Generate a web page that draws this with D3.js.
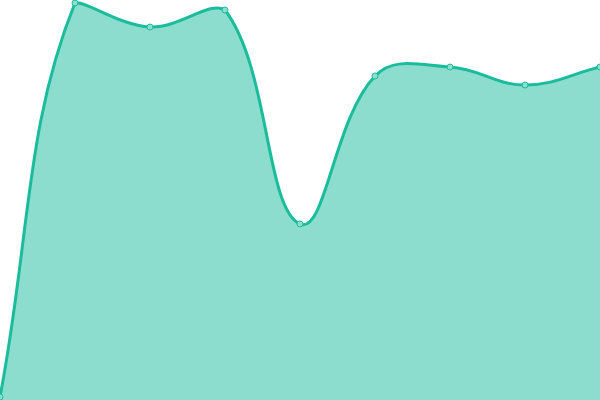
<!DOCTYPE html>
<html>
<head>
<meta charset="utf-8">
<script src="https://cdn.jsdelivr.net/npm/d3@7"></script>
<style>
  body { margin: 0; background: #fff; }
</style>
</head>
<body>
<div id="chart"></div>
<script>
// Data
const labels = [0, 1, 2, 3, 4, 5, 6, 7, 8];
const values = [3, 397, 373, 390, 176, 324, 333, 315, 333];

const width = 600;
const height = 400;
const tension = 0.4;

const svg = d3.select("#chart")
    .append("svg")
    .attr("width", width)
    .attr("height", height);

// Scales
const xScale = d3.scaleLinear()
    .domain([0, labels.length - 1])
    .range([0, width]);

const yScale = d3.scaleLinear()
    .domain([0, 400])
    .range([height, 0]);

const pts = labels.map((l, i) => ({ x: xScale(l), y: yScale(values[i]) }));

// Spline control points, clamped to the plot area
const clampX = v => Math.max(0, Math.min(width, v));
const clampY = v => Math.max(0, Math.min(height, v));
pts.forEach((p, i) => {
    const prev = pts[i - 1] || p;
    const next = pts[i + 1] || p;
    const d01 = Math.hypot(p.x - prev.x, p.y - prev.y);
    const d12 = Math.hypot(next.x - p.x, next.y - p.y);
    let s01 = d01 / (d01 + d12);
    let s12 = d12 / (d01 + d12);
    s01 = isNaN(s01) ? 0 : s01;
    s12 = isNaN(s12) ? 0 : s12;
    const fa = tension * s01;
    const fb = tension * s12;
    p.cpPrev = { x: clampX(p.x - fa * (next.x - prev.x)), y: clampY(p.y - fa * (next.y - prev.y)) };
    p.cpNext = { x: clampX(p.x + fb * (next.x - prev.x)), y: clampY(p.y + fb * (next.y - prev.y)) };
});

function splinePath(path) {
    path.moveTo(pts[0].x, pts[0].y);
    for (let i = 1; i < pts.length; i++) {
        const a = pts[i - 1], b = pts[i];
        path.bezierCurveTo(a.cpNext.x, a.cpNext.y, b.cpPrev.x, b.cpPrev.y, b.x, b.y);
    }
    return path;
}

// Area
const areaPath = splinePath(d3.path());
areaPath.lineTo(pts[pts.length - 1].x, yScale(0));
areaPath.lineTo(pts[0].x, yScale(0));
areaPath.closePath();

svg.append("path")
    .attr("d", areaPath.toString())
    .attr("fill", "rgba(26, 188, 156, 0.5)");

// Line
svg.append("path")
    .attr("d", splinePath(d3.path()).toString())
    .attr("fill", "none")
    .attr("stroke", "#1abc9c")
    .attr("stroke-width", 3);

// Points
svg.selectAll(".dot")
    .data(pts)
    .enter()
    .append("circle")
    .attr("class", "dot")
    .attr("cx", d => d.x)
    .attr("cy", d => d.y)
    .attr("r", 3)
    .attr("fill", "#8ddece")
    .attr("stroke", "#1abc9c")
    .attr("stroke-width", 1);
</script>
</body>
</html>
